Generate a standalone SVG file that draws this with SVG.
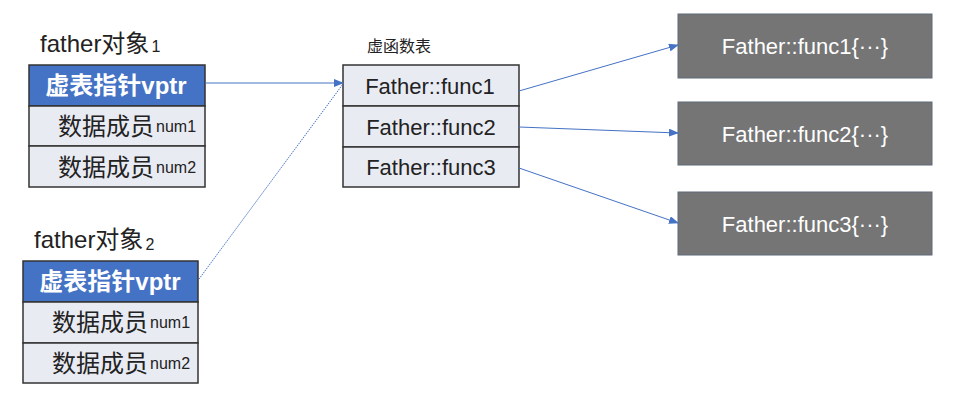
<svg xmlns="http://www.w3.org/2000/svg" width="968" height="400" viewBox="0 0 968 400">
<style>
.t{font-family:"Liberation Sans","Noto Sans CJK SC",sans-serif;}
.title{font-size:24px;fill:#222;}
.sub{font-size:16px;fill:#222;}
.hdr{fill:#4472C4;stroke:#333;stroke-width:1.5;}
.row{fill:#E9EBF3;stroke:#333;stroke-width:1.5;}
.hdrtxt{font-size:24px;font-weight:bold;fill:#fff;}
.rowtxt{font-size:24px;fill:#222;}
.num{font-size:16px;fill:#222;}
.vt{font-size:22px;fill:#222;}
.fbox{fill:#757575;stroke:#5f6b7a;stroke-width:1;}
.ftxt{font-size:22px;fill:#fff;}
.conn{stroke:#4472C4;stroke-width:1;fill:none;}
</style>
<defs>
<marker id="ah" markerWidth="10" markerHeight="8" refX="9" refY="4" orient="auto" markerUnits="userSpaceOnUse">
<path d="M0,0 L10,4 L0,8 z" fill="#4472C4"/>
</marker>
</defs>
<rect width="968" height="400" fill="#fff"/>

<g id="obj1">
<text class="t title" x="40" y="52">father对象<tspan class="sub" dx="2">1</tspan></text>
<rect class="hdr" x="29" y="65" width="176" height="41"/>
<rect class="row" x="29" y="106" width="176" height="40"/>
<rect class="row" x="29" y="146" width="176" height="41"/>
<text class="t hdrtxt" x="116" y="94" text-anchor="middle">虚表指针vptr</text>
<text class="t rowtxt" x="58" y="135">数据成员<tspan class="num" dx="2" dy="-3">num1</tspan></text>
<text class="t rowtxt" x="58" y="176">数据成员<tspan class="num" dx="2" dy="-3">num2</tspan></text>
</g>

<g id="obj2">
<text class="t title" x="34" y="248">father对象<tspan class="sub" dx="2" dy="2">2</tspan></text>
<rect class="hdr" x="23" y="261" width="175" height="41"/>
<rect class="row" x="23" y="302" width="175" height="41"/>
<rect class="row" x="23" y="343" width="175" height="40"/>
<text class="t hdrtxt" x="110" y="290" text-anchor="middle">虚表指针vptr</text>
<text class="t rowtxt" x="52" y="331">数据成员<tspan class="num" dx="2" dy="-3">num1</tspan></text>
<text class="t rowtxt" x="52" y="372">数据成员<tspan class="num" dx="2" dy="-3">num2</tspan></text>
</g>

<g id="vtable">
<text class="t" x="367" y="52" font-size="16" fill="#222">虚函数表</text>
<rect class="row" x="343" y="65" width="176" height="41"/>
<rect class="row" x="343" y="106" width="176" height="41"/>
<rect class="row" x="343" y="147" width="176" height="40"/>
<text class="t vt" x="430" y="94" text-anchor="middle">Father::func1</text>
<text class="t vt" x="431" y="135" text-anchor="middle">Father::func2</text>
<text class="t vt" x="431" y="175" text-anchor="middle">Father::func3</text>
</g>

<g id="f1">
<rect class="fbox" x="678" y="14" width="254" height="64"/>
<text class="t ftxt" x="805" y="54" text-anchor="middle">Father::func1{···}</text>
</g>
<g id="f2">
<rect class="fbox" x="678" y="102" width="254" height="63"/>
<text class="t ftxt" x="805" y="142" text-anchor="middle">Father::func2{···}</text>
</g>
<g id="f3">
<rect class="fbox" x="678" y="192" width="254" height="63"/>
<text class="t ftxt" x="805" y="232" text-anchor="middle">Father::func3{···}</text>
</g>

<g id="connectors">
<line class="conn" x1="205" y1="83" x2="343" y2="83" marker-end="url(#ah)"/>
<line class="conn" x1="199" y1="279" x2="343" y2="84" stroke-dasharray="1.5,1"/>
<line class="conn" x1="519" y1="91" x2="678" y2="45" marker-end="url(#ah)"/>
<line class="conn" x1="519" y1="127" x2="678" y2="133" marker-end="url(#ah)"/>
<line class="conn" x1="519" y1="168" x2="678" y2="223" marker-end="url(#ah)"/>
</g>
</svg>
